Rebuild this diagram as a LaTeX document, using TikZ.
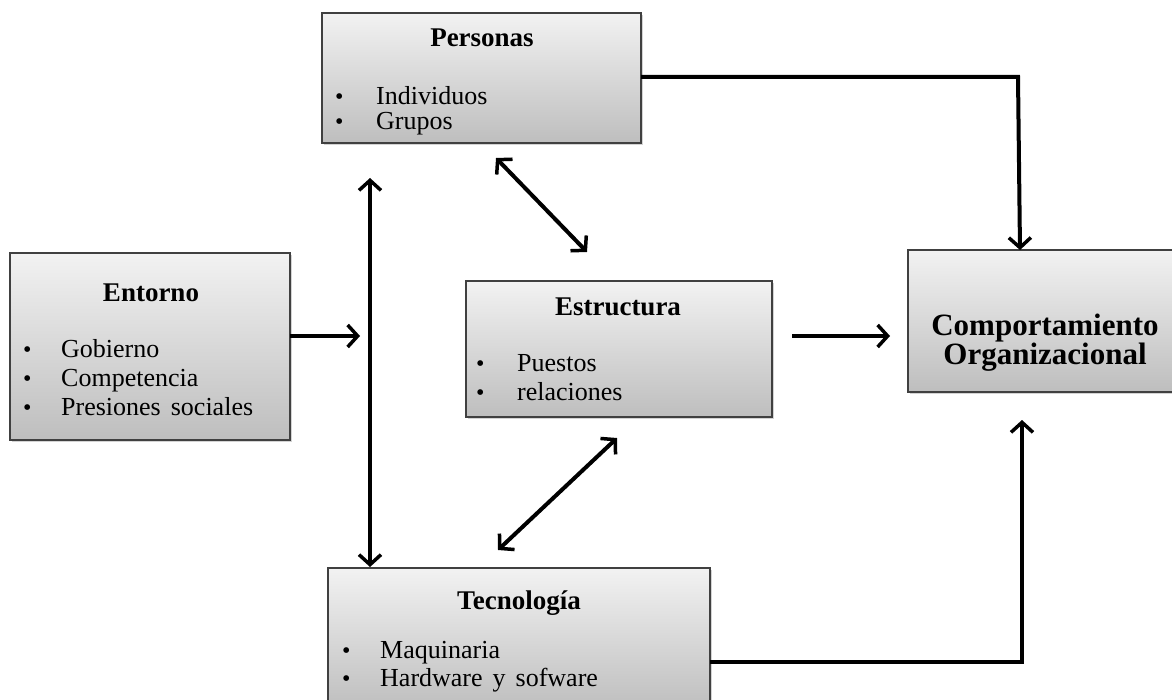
\documentclass[tikz,border=0pt]{standalone}
\usepackage{fontspec}
\setmainfont{Liberation Serif}
\usetikzlibrary{arrows.meta,shadows}
\definecolor{boxtop}{HTML}{F2F2F2}
\definecolor{boxbot}{HTML}{BEBEBE}
\tikzset{
  gbox/.style={draw=black!75, line width=1.2pt, top color=boxtop, bottom color=boxbot,
    drop shadow={shadow xshift=2pt, shadow yshift=-2pt, opacity=0.35}},
  ttl/.style={font=\fontsize{27}{30}\selectfont\bfseries, anchor=base, inner sep=0pt},
  itm/.style={font=\fontsize{26}{30}\selectfont, anchor=base west, inner sep=0pt},
  bul/.style={font=\fontsize{24}{22}\selectfont, anchor=base west, inner sep=0pt},
  conn/.style={line width=4pt, -{Straight Barb[length=10pt, width=22pt, line width=3.5pt]}},
  dconn/.style={line width=4pt, {Straight Barb[length=10pt, width=22pt, line width=3.5pt]}-{Straight Barb[length=10pt, width=22pt, line width=3.5pt]}},
}
\newcommand{\wsp}{\hspace{10pt}}
\begin{document}
\begin{tikzpicture}[x=1pt, y=-1pt]
\useasboundingbox (0,0) rectangle (1172,700);
% boxes
\path[gbox] (322,13) rectangle (641,143);
\path[gbox] (10,253) rectangle (290,440);
\path[gbox] (466,281) rectangle (772,417);
\path[gbox] (908,250) rectangle (1180,392);
\path[gbox] (328,568) rectangle (710,710);
% named anchor points on boxes
\coordinate (pR) at (641,77);
\coordinate (eR) at (290,336);
\coordinate (tR) at (710,662);
\coordinate (cT) at (1020,250);
% Personas
\node[ttl] (pt) at (482,47) {Personas};
\node[bul] (pb1) at (335,105) {•};
\node[itm] (pi1) at (376,105) {Individuos};
\node[bul] (pb2) at (335,130) {•};
\node[itm] (pi2) at (376,130) {Grupos};
% Entorno
\node[ttl] (et) at (151,302) {Entorno};
\node[bul] (eb1) at (23,358) {•};
\node[itm] (ei1) at (61,358) {Gobierno};
\node[bul] (eb2) at (23,386) {•};
\node[itm] (ei2) at (61,386) {Competencia};
\node[bul] (eb3) at (23,415) {•};
\node[itm] (ei3) at (61,415) {Presiones\wsp sociales};
% Estructura
\node[ttl] (st) at (618,316) {Estructura};
\node[bul] (sb1) at (476,371) {•};
\node[itm] (si1) at (517,371) {Puestos};
\node[bul] (sb2) at (476,400) {•};
\node[itm] (si2) at (517,400) {relaciones};
% Comportamiento
\node[font=\fontsize{31}{29}\selectfont\bfseries, align=center, inner sep=0pt] (ct) at (1045,343) {Comportamiento\\Organizacional};
% Tecnologia
\node[ttl] (tt) at (519,609) {Tecnología};
\node[bul] (tb1) at (342,658) {•};
\node[itm] (ti1) at (380,658) {Maquinaria};
\node[bul] (tb2) at (342,686) {•};
\node[itm] (ti2) at (380,686) {Hardware\wsp y\wsp sofware};
% free arrow ends
\coordinate (eA) at (360,336);
\coordinate (vT) at (370,178);
\coordinate (vB) at (370,567);
\coordinate (d1a) at (496,158);
\coordinate (d1b) at (587,252);
\coordinate (sA) at (792,336);
\coordinate (sB) at (890,336);
\coordinate (d2a) at (617,438);
\coordinate (d2b) at (498,550);
\coordinate (cTb) at (1022,420);
% connectors
\draw[conn] (pR) -- (1018,77) -- (cT);
\draw[conn] (tR) -- (1022,662) -- (cTb);
\draw[conn] (eR) -- (eA);
\draw[dconn] (vT) -- (vB);
\draw[dconn] (d1a) -- (d1b);
\draw[conn] (sA) -- (sB);
\draw[dconn] (d2a) -- (d2b);
\end{tikzpicture}
\end{document}
